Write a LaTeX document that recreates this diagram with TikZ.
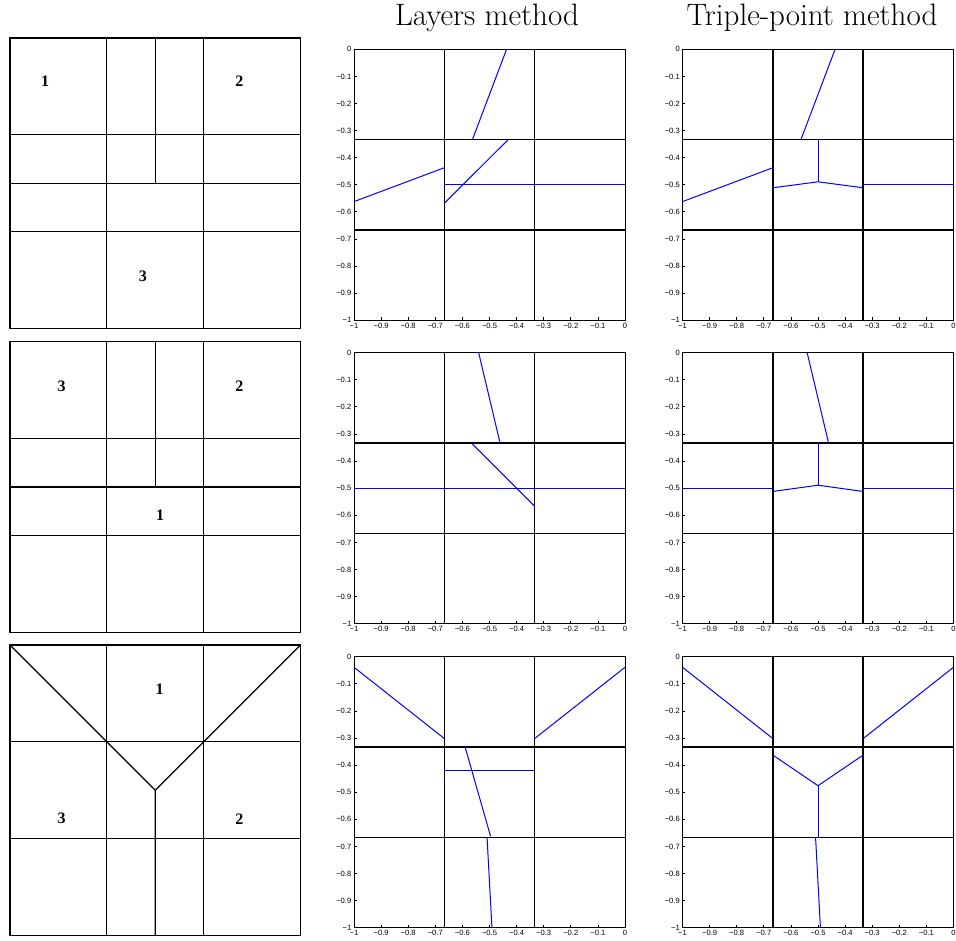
\documentclass[tikz,border=0pt]{standalone}
\usepackage{fontspec}
\newfontfamily\labelfont{Liberation Serif}
\newfontfamily\tickfont{Liberation Sans}
\usetikzlibrary{positioning}

\tikzset{
  cellline/.style={line width=1.3pt, black},
  gridline/.style={line width=1.4pt, black},
  axisline/.style={line width=0.8pt, black},
  front/.style={line width=1pt, blue},
  region/.style={font=\labelfont\bfseries\fontsize{16}{16}\selectfont},
  ticklab/.style={font=\tickfont\fontsize{7.6}{8}\selectfont, inner sep=0.5pt},
  heading/.style={font=\fontsize{31}{33}\selectfont, anchor=base}
}

% axes of one plot, #1 = prefix for the label names
\newcommand{\plotframe}[1]{%
  \draw[axisline] (-1,-1) rectangle (0,0);
  \foreach \k in {0,...,10}{
    \pgfmathtruncatemacro\kk{10-\k}
    \draw[axisline] ({-1+\k/10},-1) -- ++(0,0.011);
    \draw[axisline] (-1,{-\k/10}) -- ++(0.011,0);
    \node[ticklab, below=2pt] (#1x\k) at ({-1+\k/10},-1)
      {\ifnum\k=0 −1\else\ifnum\k=10 0\else −0.\kk\fi\fi};
    \node[ticklab, left=2pt] (#1y\k) at (-1,{-\k/10})
      {\ifnum\k=0 0\else\ifnum\k=10 −1\else −0.\k\fi\fi};
  }
  \draw[gridline] (-2/3,0) -- (-2/3,-1) (-1/3,0) -- (-1/3,-1)
                  (-1,-1/3) -- (0,-1/3) (-1,-2/3) -- (0,-2/3);
}

\begin{document}
\begin{tikzpicture}[x=1pt, y=1pt]
  \useasboundingbox (0,0) rectangle (956,-941);

  % column headings
  \node[heading] (hlay) at (487,-26) {Layers method};
  \node[heading] (htri) at (812,-26) {Triple-point method};

  % Row 1: sketch
  \begin{scope}[shift={(300.5,-38)}, scale=290.5]
    \draw[cellline] (-1,-1) rectangle (0,0);
    \draw[cellline] (-2/3,0) -- (-2/3,-1) (-1/3,0) -- (-1/3,-1)
                    (-1,-1/3) -- (0,-1/3) (-1,-1/2) -- (0,-1/2) (-1,-2/3) -- (0,-2/3);
    \draw[cellline] (-1/2,0) -- (-1/2,-1/2);
    \node[region] (ra1) at (-0.879,-0.150) {1};
    \node[region] (ra2) at (-0.210,-0.150) {2};
    \node[region] (ra3) at (-0.543,-0.820) {3};
  \end{scope}
  % Row 1: layers
  \begin{scope}[shift={(625,-49.3)}, scale=271]
    \plotframe{la}
    \draw[front] (-0.437,0) -- (-0.563,-1/3);
    \draw[front] (-1,-0.562) -- (-2/3,-0.437);
    \draw[front] (-2/3,-0.568) -- (-0.431,-1/3);
    \draw[front] (-2/3,-0.5) -- (0,-0.5);
  \end{scope}
  % Row 1: triple point
  \begin{scope}[shift={(953.5,-49.3)}, scale=271]
    \plotframe{ta}
    \draw[front] (-0.437,0) -- (-0.563,-1/3);
    \draw[front] (-1,-0.562) -- (-2/3,-0.437);
    \draw[front] (-2/3,-0.511) -- (-0.5,-0.489) -- (-1/3,-0.511);
    \draw[front] (-0.5,-1/3) -- (-0.5,-0.489);
    \draw[front] (-1/3,-0.5) -- (0,-0.5);
  \end{scope}

  % Row 2: sketch
  \begin{scope}[shift={(300.5,-341.7)}, scale=290.5]
    \draw[cellline] (-1,-1) rectangle (0,0);
    \draw[cellline] (-2/3,0) -- (-2/3,-1) (-1/3,0) -- (-1/3,-1)
                    (-1,-1/3) -- (0,-1/3) (-1,-1/2) -- (0,-1/2) (-1,-2/3) -- (0,-2/3);
    \draw[cellline] (-1/2,0) -- (-1/2,-1/2);
    \node[region] (rb3) at (-0.822,-0.152) {3};
    \node[region] (rb2) at (-0.210,-0.152) {2};
    \node[region] (rb1) at (-0.483,-0.597) {1};
  \end{scope}
  % Row 2: layers
  \begin{scope}[shift={(625,-352.7)}, scale=271]
    \plotframe{lb}
    \draw[front] (-0.540,0) -- (-0.461,-1/3);
    \draw[front] (-0.567,-1/3) -- (-1/3,-0.567);
    \draw[front] (-1,-0.5) -- (0,-0.5);
  \end{scope}
  % Row 2: triple point
  \begin{scope}[shift={(953.5,-352.7)}, scale=271]
    \plotframe{tb}
    \draw[front] (-0.540,0) -- (-0.461,-1/3);
    \draw[front] (-1,-0.5) -- (-2/3,-0.5);
    \draw[front] (-2/3,-0.512) -- (-0.5,-0.489) -- (-1/3,-0.512);
    \draw[front] (-0.5,-1/3) -- (-0.5,-0.489);
    \draw[front] (-1/3,-0.5) -- (0,-0.5);
  \end{scope}

  % Row 3: sketch
  \begin{scope}[shift={(300.5,-645)}, scale=290.5]
    \draw[cellline] (-1,-1) rectangle (0,0);
    \draw[cellline] (-2/3,0) -- (-2/3,-1) (-1/3,0) -- (-1/3,-1)
                    (-1,-1/3) -- (0,-1/3) (-1,-2/3) -- (0,-2/3);
    \draw[cellline] (-1,0) -- (-1/2,-1/2) -- (0,0) (-1/2,-1/2) -- (-1/2,-1);
    \node[region] (rc1) at (-0.485,-0.153) {1};
    \node[region] (rc3) at (-0.822,-0.598) {3};
    \node[region] (rc2) at (-0.210,-0.598) {2};
  \end{scope}
  % Row 3: layers
  \begin{scope}[shift={(625,-656.7)}, scale=271]
    \plotframe{lc}
    \draw[front] (-1,-0.039) -- (-2/3,-0.302);
    \draw[front] (-1/3,-0.302) -- (0,-0.039);
    \draw[front] (-2/3,-0.42) -- (-1/3,-0.42);
    \draw[front] (-0.59,-1/3) -- (-0.496,-0.663);
    \draw[front] (-0.509,-2/3) -- (-0.491,-1);
  \end{scope}
  % Row 3: triple point
  \begin{scope}[shift={(953.5,-656.7)}, scale=271]
    \plotframe{tc}
    \draw[front] (-1,-0.039) -- (-2/3,-0.302);
    \draw[front] (-1/3,-0.302) -- (0,-0.039);
    \draw[front] (-2/3,-0.363) -- (-0.5,-0.476) -- (-1/3,-0.363);
    \draw[front] (-0.5,-0.476) -- (-0.5,-2/3);
    \draw[front] (-0.509,-2/3) -- (-0.491,-1);
  \end{scope}
\end{tikzpicture}
\end{document}
